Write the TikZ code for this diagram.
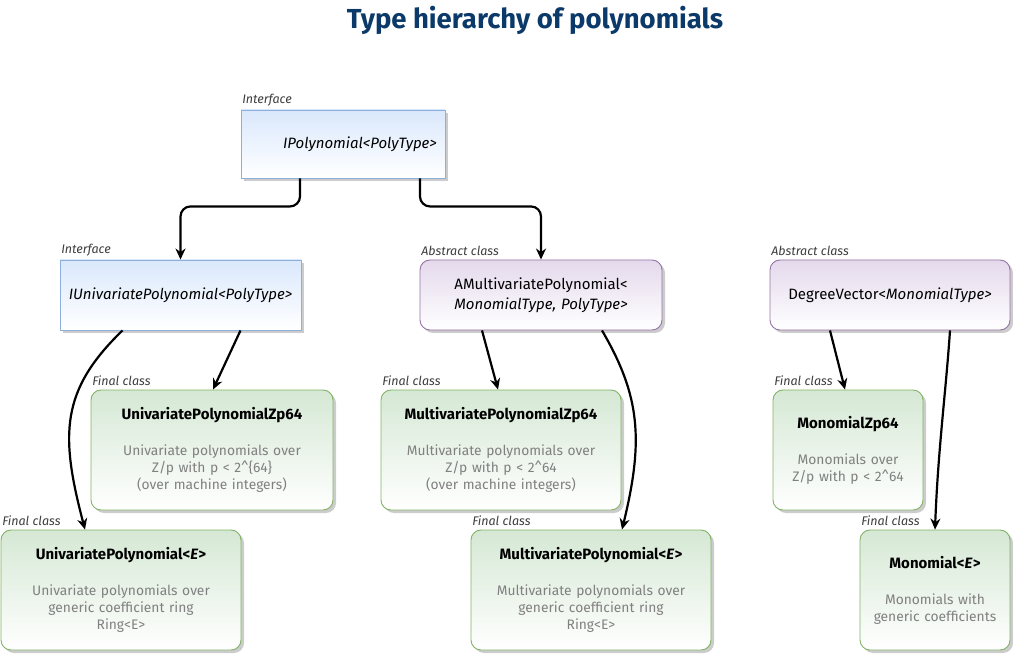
\documentclass[tikz,border=0pt]{standalone}
\usepackage{fontspec}
\setmainfont{Fira Sans}
\usetikzlibrary{arrows.meta,shadows,calc}
\definecolor{bluefill}{HTML}{DAE8FC}
\definecolor{blueline}{HTML}{8EAEDC}
\definecolor{purplefill}{HTML}{E4D9EC}
\definecolor{purpleline}{HTML}{9673A6}
\definecolor{greenfill}{HTML}{D5E8D4}
\definecolor{greenline}{HTML}{82B366}
\definecolor{titleblue}{HTML}{0B3A6A}
\definecolor{desc}{HTML}{808080}
\definecolor{caption}{HTML}{3C3C3C}
\tikzset{
  box/.style={draw, line width=0.9pt, inner sep=2pt, align=center,
    drop shadow={shadow xshift=3pt, shadow yshift=-3pt, fill=black, opacity=0.2}},
  ifcbox/.style={box, draw=blueline, top color=bluefill, bottom color=white,
    font=\fontsize{15}{18}\selectfont\itshape},
  absbox/.style={box, draw=purpleline, top color=purplefill, bottom color=white,
    rounded corners=10pt, font=\fontsize{15}{20}\selectfont},
  finbox/.style={box, draw=greenline, top color=greenfill, bottom color=white,
    rounded corners=10pt, font=\fontsize{13.8}{17}\selectfont},
  capt/.style={anchor=south west, inner xsep=1.5pt, inner ysep=3.5pt, font=\fontsize{12.5}{14}\selectfont\itshape, text=caption},
  arr/.style={line width=2.2pt, -{Stealth[length=11pt,width=10pt]}},
}
\newcommand{\ctitle}[1]{{\fontsize{15}{20}\selectfont\bfseries #1\par}\vspace{19pt}}
\begin{document}
\begin{tikzpicture}[x=1pt,y=-1pt]
\useasboundingbox (0,0) rectangle (1013,655);

\node[font=\fontsize{27.5}{32}\selectfont\bfseries, text=titleblue] (title) at (535,20) {Type hierarchy of polynomials};

% interface / abstract
\node[ifcbox, minimum width=204pt, minimum height=68pt, text width=196pt] (ip) at (343,144) {\hspace*{34pt}IPolynomial<PolyType>};
\node[ifcbox, minimum width=241pt, minimum height=70pt, text width=233pt] (iu) at (180.5,295) {IUnivariatePolynomial<PolyType>};
\node[absbox, minimum width=242pt, minimum height=70pt, text width=234pt] (am) at (541,295) {AMultivariatePolynomial<\\\textit{MonomialType, PolyType>}};
\node[absbox, minimum width=240pt, minimum height=70pt, text width=232pt] (dv) at (890,295) {DegreeVector<\textit{MonomialType>}};

% final classes
\node[finbox, minimum width=242pt, minimum height=120pt, text width=234pt] (uz) at (212,450)
  {\ctitle{UnivariatePolynomialZp64}\color{desc}Univariate polynomials over\\Z/p with p < 2\textasciicircum\{64\}\\(over machine integers)};
\node[finbox, minimum width=240pt, minimum height=120pt, text width=232pt] (mz) at (501,450)
  {\ctitle{MultivariatePolynomialZp64}\color{desc}Multivariate polynomials over\\Z/p with p < 2\textasciicircum 64\\(over machine integers)};
\node[finbox, minimum width=150pt, minimum height=120pt, text width=142pt] (moz) at (848,450)
  {\ctitle{MonomialZp64}\color{desc}Monomials over\\Z/p with p < 2\textasciicircum 64};
\node[finbox, minimum width=240pt, minimum height=120pt, text width=232pt] (up) at (121,590)
  {\ctitle{UnivariatePolynomial<\textit{E}>}\color{desc}Univariate polynomials over\\generic coefficient ring\\Ring<E>};
\node[finbox, minimum width=240pt, minimum height=120pt, text width=232pt] (mp) at (591,590)
  {\ctitle{MultivariatePolynomial<\textit{E}>}\color{desc}Multivariate polynomials over\\generic coefficient ring\\Ring<E>};
\node[finbox, minimum width=150pt, minimum height=120pt, text width=142pt] (mo) at (935,590)
  {\ctitle{Monomial<\textit{E}>}\color{desc}Monomials with\\generic coefficients};

% captions
\node[capt] (ipl) at (ip.north west) {Interface};
\node[capt] (iul) at (iu.north west) {Interface};
\node[capt] (aml) at (am.north west) {Abstract class};
\node[capt] (dvl) at (dv.north west) {Abstract class};
\node[capt] (uzl) at (uz.north west) {Final class};
\node[capt] (mzl) at (mz.north west) {Final class};
\node[capt] (mozl) at (moz.north west) {Final class};
\node[capt] (upl) at (up.north west) {Final class};
\node[capt] (mpl) at (mp.north west) {Final class};
\node[capt] (mol) at (mo.north west) {Final class};

% connectors
\draw[arr, rounded corners=10pt] ([xshift=-43pt]ip.south) -- ++(0,28) -| (iu.north);
\draw[arr, rounded corners=10pt] ([xshift=77pt]ip.south) -- ++(0,28) -| (am.north);
\draw[arr] ([xshift=60pt]iu.south) -- ([xshift=1pt]uz.north);
\draw[arr] ([xshift=-58pt]iu.south) .. controls +(-62,60) and +(-25,-95) .. ([xshift=-36pt]up.north);
\draw[arr] ([xshift=-59pt]am.south) -- ([xshift=-3pt]mz.north);
\draw[arr] ([xshift=61pt]am.south) .. controls +(38,65) and +(22,-90) .. ([xshift=31pt]mp.north);
\draw[arr] ([xshift=-60pt]dv.south) -- ([xshift=-3pt]moz.north);
\draw[arr] ([xshift=60pt]dv.south) .. controls +(-4,60) and +(3,-80) .. ([xshift=0pt]mo.north);
\end{tikzpicture}
\end{document}
